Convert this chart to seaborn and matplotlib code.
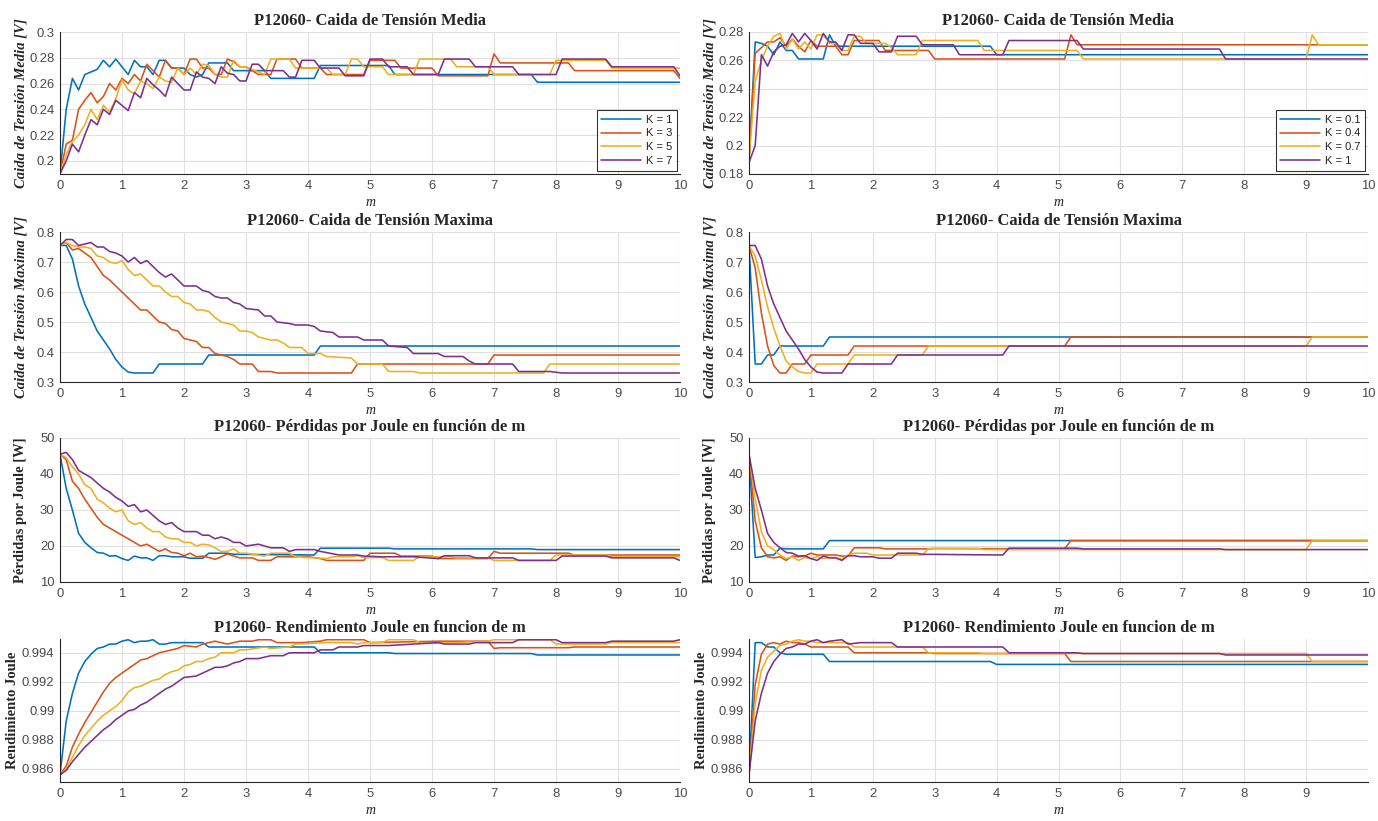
import matplotlib
matplotlib.use("Agg")
import matplotlib.pyplot as plt
import seaborn as sns
import pandas as pd

# ---------------- data ----------------
colores = ["#0072BD", "#D95319", "#EDB120", "#7E2F8E"]
k_izq = ["K = 1", "K = 3", "K = 5", "K = 7"]
k_der = ["K = 0.1", "K = 0.4", "K = 0.7", "K = 1"]
m_ticks = [0, 1, 2, 3, 4, 5, 6, 7, 8, 9, 10]

# Caida de Tension Media (left: K = 1, 3, 5, 7)
media_izq_k1 = [(0, 0.19), (0.1, 0.24), (0.2, 0.264), (0.3, 0.255), (0.4, 0.267), (0.5, 0.269), (0.6, 0.271),
                (0.7, 0.278), (0.8, 0.273), (0.9, 0.279), (1.0, 0.273), (1.1, 0.267), (1.2, 0.278), (1.3, 0.273),
                (1.4, 0.273), (1.5, 0.267), (1.6, 0.278), (1.7, 0.278), (1.8, 0.272), (2.0, 0.272), (2.1, 0.267),
                (2.2, 0.265), (2.3, 0.267), (2.4, 0.276), (2.7, 0.276), (2.8, 0.27), (3.3, 0.27), (3.4, 0.264),
                (4.1, 0.264), (4.2, 0.274), (5.3, 0.274), (5.4, 0.267), (7.6, 0.267), (7.7, 0.261), (10, 0.261)]
media_izq_k3 = [(0, 0.19), (0.1, 0.213), (0.2, 0.216), (0.3, 0.24), (0.4, 0.247), (0.5, 0.253), (0.6, 0.245),
                (0.7, 0.25), (0.8, 0.26), (0.9, 0.255), (1.0, 0.264), (1.1, 0.26), (1.2, 0.267), (1.3, 0.262),
                (1.4, 0.275), (1.5, 0.27), (1.6, 0.265), (1.7, 0.278), (1.8, 0.272), (1.9, 0.272), (2.0, 0.267),
                (2.1, 0.279), (2.2, 0.279), (2.3, 0.272), (2.4, 0.272), (2.5, 0.267), (2.6, 0.267), (2.7, 0.279),
                (2.8, 0.277), (2.9, 0.273), (3.0, 0.273), (3.2, 0.267), (3.4, 0.267), (3.5, 0.279), (3.8, 0.279),
                (3.9, 0.272), (4.2, 0.272), (4.3, 0.267), (4.9, 0.267), (5.0, 0.278), (5.4, 0.278), (5.5, 0.272),
                (6.0, 0.272), (6.1, 0.266), (6.9, 0.266), (7.0, 0.283), (7.1, 0.276), (8.2, 0.276), (8.3, 0.27),
                (9.9, 0.27), (10, 0.264)]
media_izq_k5 = [(0, 0.19), (0.1, 0.205), (0.2, 0.215), (0.3, 0.22), (0.4, 0.228), (0.5, 0.24), (0.6, 0.232),
                (0.7, 0.243), (0.8, 0.238), (0.9, 0.248), (1.0, 0.263), (1.1, 0.255), (1.2, 0.252), (1.3, 0.262),
                (1.4, 0.26), (1.5, 0.256), (1.6, 0.265), (1.7, 0.262), (1.8, 0.261), (1.9, 0.272), (2.0, 0.267),
                (2.1, 0.272), (2.2, 0.267), (2.3, 0.275), (2.4, 0.274), (2.5, 0.267), (2.6, 0.265), (2.7, 0.265),
                (2.8, 0.278), (2.9, 0.273), (3.0, 0.273), (3.3, 0.267), (3.4, 0.279), (3.7, 0.279), (3.8, 0.272),
                (4.3, 0.272), (4.4, 0.267), (4.6, 0.267), (4.7, 0.279), (4.8, 0.279), (4.9, 0.273), (5.2, 0.273),
                (5.3, 0.267), (5.7, 0.267), (5.8, 0.279), (6.3, 0.279), (6.4, 0.273), (6.9, 0.273), (7.0, 0.267),
                (7.9, 0.267), (8.0, 0.278), (8.8, 0.278), (8.9, 0.272), (10, 0.272)]
media_izq_k7 = [(0, 0.19), (0.1, 0.2), (0.2, 0.213), (0.3, 0.207), (0.4, 0.22), (0.5, 0.232), (0.6, 0.228),
                (0.7, 0.24), (0.8, 0.236), (0.9, 0.247), (1.0, 0.243), (1.1, 0.239), (1.2, 0.253), (1.3, 0.249),
                (1.4, 0.264), (1.5, 0.259), (1.6, 0.255), (1.7, 0.25), (1.8, 0.265), (1.9, 0.26), (2.0, 0.255),
                (2.1, 0.255), (2.2, 0.269), (2.3, 0.265), (2.4, 0.264), (2.5, 0.26), (2.6, 0.273), (2.7, 0.268),
                (2.8, 0.267), (2.9, 0.262), (3.0, 0.262), (3.1, 0.275), (3.2, 0.275), (3.3, 0.27), (3.6, 0.27),
                (3.7, 0.265), (3.8, 0.265), (3.9, 0.278), (4.1, 0.278), (4.2, 0.272), (4.5, 0.272), (4.6, 0.266),
                (4.9, 0.266), (5.0, 0.279), (5.2, 0.279), (5.3, 0.273), (5.6, 0.273), (5.7, 0.267), (6.1, 0.267),
                (6.2, 0.279), (6.6, 0.279), (6.7, 0.273), (7.3, 0.273), (7.4, 0.267), (8.0, 0.267), (8.1, 0.279),
                (8.8, 0.279), (8.9, 0.273), (9.9, 0.273), (10, 0.266)]

# Caida de Tension Media (right: K = 0.1, 0.4, 0.7, 1)
media_der_k01 = [(0, 0.19), (0.1, 0.273), (0.2, 0.272), (0.3, 0.27), (0.4, 0.264), (0.5, 0.273), (0.6, 0.267),
                 (0.7, 0.267), (0.8, 0.261), (1.2, 0.261), (1.3, 0.278), (1.4, 0.27), (3.9, 0.27), (4.0, 0.264),
                 (10, 0.264)]
media_der_k04 = [(0, 0.19), (0.1, 0.265), (0.2, 0.269), (0.3, 0.273), (0.4, 0.273), (0.5, 0.276), (0.6, 0.27),
                 (0.7, 0.275), (0.8, 0.27), (0.9, 0.266), (1.0, 0.274), (1.1, 0.27), (1.4, 0.27), (1.5, 0.264),
                 (1.6, 0.264), (1.7, 0.274), (2.1, 0.274), (2.2, 0.267), (2.9, 0.267), (3.0, 0.261), (5.1, 0.261),
                 (5.2, 0.278), (5.3, 0.271), (10, 0.271)]
media_der_k07 = [(0, 0.19), (0.1, 0.245), (0.2, 0.26), (0.3, 0.27), (0.4, 0.277), (0.5, 0.279), (0.6, 0.268),
                 (0.7, 0.275), (0.8, 0.268), (0.9, 0.273), (1.0, 0.268), (1.1, 0.278), (1.2, 0.278), (1.3, 0.272),
                 (1.4, 0.272), (1.5, 0.267), (1.6, 0.267), (1.7, 0.277), (1.8, 0.277), (1.9, 0.272), (2.2, 0.272),
                 (2.3, 0.269), (2.4, 0.264), (2.7, 0.264), (2.8, 0.274), (3.7, 0.274), (3.8, 0.267), (5.3, 0.267),
                 (5.4, 0.261), (9.0, 0.261), (9.1, 0.278), (9.2, 0.271), (10, 0.271)]
media_der_k1 = [(0, 0.188), (0.1, 0.2), (0.2, 0.264), (0.3, 0.256), (0.4, 0.266), (0.5, 0.27), (0.6, 0.271),
                (0.7, 0.279), (0.8, 0.273), (0.9, 0.279), (1.0, 0.274), (1.1, 0.268), (1.2, 0.279), (1.3, 0.273),
                (1.4, 0.273), (1.5, 0.267), (1.6, 0.278), (1.7, 0.278), (1.8, 0.272), (2.0, 0.272), (2.1, 0.266),
                (2.3, 0.266), (2.4, 0.277), (2.7, 0.277), (2.8, 0.271), (3.3, 0.271), (3.4, 0.264), (4.1, 0.264),
                (4.2, 0.274), (5.3, 0.274), (5.4, 0.268), (7.6, 0.268), (7.7, 0.261), (10, 0.261)]

# Caida de Tension Maxima
maxima_izq_k1 = [(0, 0.755), (0.1, 0.755), (0.2, 0.71), (0.3, 0.62), (0.4, 0.56), (0.5, 0.515), (0.6, 0.47),
                 (0.7, 0.44), (0.8, 0.41), (0.9, 0.375), (1.0, 0.35), (1.1, 0.333), (1.2, 0.33), (1.5, 0.33),
                 (1.6, 0.36), (2.3, 0.36), (2.4, 0.39), (4.1, 0.39), (4.2, 0.42), (10, 0.42)]
maxima_izq_k3 = [(0, 0.755), (0.1, 0.765), (0.2, 0.74), (0.3, 0.745), (0.4, 0.73), (0.5, 0.715), (0.6, 0.685),
                 (0.7, 0.655), (0.8, 0.64), (0.9, 0.62), (1.0, 0.6), (1.1, 0.58), (1.2, 0.56), (1.3, 0.54),
                 (1.4, 0.54), (1.5, 0.52), (1.6, 0.5), (1.7, 0.495), (1.8, 0.475), (1.9, 0.47), (2.0, 0.445),
                 (2.1, 0.44), (2.2, 0.435), (2.3, 0.415), (2.4, 0.415), (2.5, 0.395), (2.6, 0.39), (2.7, 0.385),
                 (2.8, 0.375), (2.9, 0.36), (3.1, 0.36), (3.2, 0.335), (3.4, 0.335), (3.5, 0.33), (4.7, 0.33),
                 (4.8, 0.36), (6.9, 0.36), (7.0, 0.39), (10, 0.39)]
maxima_izq_k5 = [(0, 0.755), (0.1, 0.765), (0.2, 0.755), (0.3, 0.75), (0.4, 0.75), (0.5, 0.745), (0.6, 0.72),
                 (0.7, 0.715), (0.8, 0.7), (0.9, 0.695), (1.0, 0.705), (1.1, 0.675), (1.2, 0.655), (1.3, 0.66),
                 (1.4, 0.64), (1.5, 0.62), (1.6, 0.62), (1.7, 0.6), (1.8, 0.585), (1.9, 0.585), (2.0, 0.565),
                 (2.1, 0.56), (2.2, 0.54), (2.3, 0.54), (2.4, 0.535), (2.5, 0.515), (2.6, 0.5), (2.7, 0.495),
                 (2.8, 0.49), (2.9, 0.47), (3.0, 0.47), (3.1, 0.465), (3.2, 0.45), (3.3, 0.445), (3.4, 0.44),
                 (3.5, 0.44), (3.6, 0.43), (3.7, 0.415), (3.9, 0.415), (4.0, 0.395), (4.2, 0.395), (4.3, 0.385),
                 (4.7, 0.38), (4.8, 0.36), (5.2, 0.36), (5.3, 0.335), (5.7, 0.335), (5.8, 0.33), (7.8, 0.33),
                 (7.9, 0.36), (10, 0.36)]
maxima_izq_k7 = [(0, 0.755), (0.1, 0.775), (0.2, 0.775), (0.3, 0.755), (0.4, 0.76), (0.5, 0.765), (0.6, 0.75),
                 (0.7, 0.75), (0.8, 0.735), (0.9, 0.73), (1.0, 0.72), (1.1, 0.7), (1.2, 0.715), (1.3, 0.695),
                 (1.4, 0.705), (1.5, 0.685), (1.6, 0.665), (1.7, 0.65), (1.8, 0.66), (1.9, 0.64), (2.0, 0.62),
                 (2.2, 0.62), (2.3, 0.605), (2.4, 0.6), (2.5, 0.585), (2.6, 0.58), (2.7, 0.58), (2.8, 0.565),
                 (2.9, 0.56), (3.0, 0.545), (3.2, 0.54), (3.3, 0.52), (3.4, 0.52), (3.5, 0.5), (3.7, 0.495),
                 (3.8, 0.49), (4.0, 0.49), (4.1, 0.485), (4.2, 0.47), (4.4, 0.465), (4.5, 0.45), (4.8, 0.45),
                 (4.9, 0.44), (5.2, 0.44), (5.3, 0.42), (5.6, 0.415), (5.7, 0.395), (6.1, 0.395), (6.2, 0.385),
                 (6.5, 0.385), (6.6, 0.37), (6.7, 0.36), (7.3, 0.36), (7.4, 0.335), (7.9, 0.335), (8.1, 0.33),
                 (10, 0.33)]
maxima_der_k01 = [(0, 0.755), (0.1, 0.36), (0.2, 0.36), (0.3, 0.39), (0.4, 0.39), (0.5, 0.42), (1.2, 0.42),
                  (1.3, 0.45), (10, 0.45)]
maxima_der_k04 = [(0, 0.755), (0.1, 0.68), (0.2, 0.53), (0.3, 0.42), (0.4, 0.355), (0.5, 0.33), (0.6, 0.33),
                  (0.7, 0.36), (0.9, 0.36), (1.0, 0.39), (1.6, 0.39), (1.7, 0.42), (5.1, 0.42), (5.2, 0.45),
                  (10, 0.45)]
maxima_der_k07 = [(0, 0.755), (0.1, 0.72), (0.2, 0.64), (0.3, 0.55), (0.4, 0.48), (0.5, 0.42), (0.6, 0.37),
                  (0.7, 0.35), (0.8, 0.335), (0.9, 0.33), (1.0, 0.33), (1.1, 0.36), (1.6, 0.36), (1.7, 0.39),
                  (2.8, 0.39), (2.9, 0.42), (9.0, 0.42), (9.1, 0.45), (10, 0.45)]
maxima_der_k1 = [(0, 0.755), (0.1, 0.755), (0.2, 0.71), (0.3, 0.62), (0.4, 0.56), (0.5, 0.515), (0.6, 0.47),
                 (0.7, 0.44), (0.8, 0.41), (0.9, 0.375), (1.0, 0.35), (1.1, 0.333), (1.2, 0.33), (1.5, 0.33),
                 (1.6, 0.36), (2.3, 0.36), (2.4, 0.39), (4.1, 0.39), (4.2, 0.42), (10, 0.42)]

# Perdidas por Joule
perdidas_izq_k1 = [(0, 45.5), (0.1, 36), (0.2, 30), (0.3, 23.5), (0.4, 21), (0.5, 19.5), (0.6, 18.2), (0.7, 18),
                   (0.8, 17.2), (0.9, 17.3), (1.0, 16.5), (1.1, 16), (1.2, 17.2), (1.3, 16.7), (1.4, 16.7),
                   (1.5, 16), (1.6, 17.3), (1.7, 17.3), (1.8, 17), (2.0, 17), (2.1, 16.6), (2.3, 16.6), (2.4, 18),
                   (2.7, 18), (2.8, 17.7), (4.1, 17.5), (4.2, 19.4), (5.3, 19.4), (5.4, 19.2), (7.6, 19.2),
                   (7.7, 19.0), (10, 19.0)]
perdidas_izq_k3 = [(0, 45.5), (0.1, 44), (0.2, 38), (0.3, 36), (0.4, 33), (0.5, 30.5), (0.6, 28), (0.7, 26),
                   (0.8, 25), (0.9, 24), (1.0, 23), (1.1, 22), (1.2, 21), (1.3, 20), (1.4, 20.5), (1.5, 19.5),
                   (1.6, 18.5), (1.7, 19.2), (1.8, 18.2), (1.9, 18), (2.0, 17.3), (2.1, 18), (2.2, 17),
                   (2.3, 17.2), (2.4, 16.8), (2.5, 16.3), (2.6, 17), (2.7, 17.8), (2.8, 17.2), (2.9, 16.7),
                   (3.1, 16.7), (3.2, 16), (3.4, 16), (3.5, 17), (3.8, 17), (3.9, 17.3), (4.2, 16.5), (4.3, 16),
                   (4.9, 16), (5.0, 18), (5.4, 18), (5.5, 17.2), (6.0, 17.2), (6.1, 16.5), (6.9, 16.5),
                   (7.0, 18.5), (7.1, 18), (8.2, 18), (8.3, 17.5), (10, 17.5)]
perdidas_izq_k5 = [(0, 45.5), (0.1, 44.5), (0.2, 42), (0.3, 40), (0.4, 37), (0.5, 36), (0.6, 33), (0.7, 32),
                   (0.8, 30.5), (0.9, 29.5), (1.0, 30), (1.1, 27), (1.2, 26), (1.3, 26.5), (1.4, 25), (1.5, 24),
                   (1.6, 24), (1.7, 22.5), (1.8, 22), (1.9, 22), (2.0, 21), (2.1, 21), (2.2, 20), (2.3, 20.5),
                   (2.4, 20.3), (2.5, 19.5), (2.6, 18.5), (2.7, 18.5), (2.8, 19.2), (2.9, 18), (3.0, 18),
                   (3.3, 17.2), (3.4, 18), (3.7, 18), (3.8, 17), (4.3, 16.5), (4.4, 17), (4.7, 17), (4.8, 17.3),
                   (4.9, 16.8), (5.2, 16.8), (5.3, 16), (5.7, 16), (5.8, 17), (6.3, 17), (6.4, 16.7), (6.9, 16.7),
                   (7.0, 16), (7.9, 16), (8.0, 17.5), (8.8, 17.5), (8.9, 17), (10, 17)]
perdidas_izq_k7 = [(0, 45.5), (0.1, 46), (0.2, 44), (0.3, 41), (0.4, 40), (0.5, 39), (0.6, 37.5), (0.7, 36),
                   (0.8, 35), (0.9, 33.5), (1.0, 32.5), (1.1, 31), (1.2, 31.5), (1.3, 29.5), (1.4, 30),
                   (1.5, 28.5), (1.6, 27), (1.7, 26), (1.8, 26.5), (1.9, 25), (2.0, 24), (2.2, 24), (2.3, 23),
                   (2.4, 23), (2.5, 22), (2.6, 22.5), (2.7, 22), (2.8, 21), (2.9, 21), (3.0, 20), (3.2, 20.5),
                   (3.3, 20), (3.4, 19.5), (3.6, 19.5), (3.7, 18.5), (3.8, 19), (4.1, 19), (4.2, 18.5),
                   (4.5, 17.5), (4.8, 17.5), (4.9, 17.2), (5.2, 17), (5.7, 17), (6.1, 16.5), (6.2, 17.3),
                   (6.6, 17.3), (6.7, 16.7), (7.3, 16.7), (7.4, 16), (8.0, 16), (8.1, 17.2), (8.8, 17.2),
                   (8.9, 16.7), (9.9, 16.7), (10, 16)]
perdidas_der_k01 = [(0, 45.5), (0.1, 16.8), (0.2, 17), (0.3, 17.5), (0.4, 17.5), (0.5, 19.4), (0.6, 19.2),
                    (1.2, 19.2), (1.3, 21.5), (10, 21.5)]
perdidas_der_k04 = [(0, 45.5), (0.1, 27), (0.2, 19.5), (0.3, 17), (0.4, 16.7), (0.5, 17), (0.6, 16), (0.7, 17.2),
                    (0.8, 17), (0.9, 17.2), (1.0, 18), (1.1, 17.5), (1.4, 17.5), (1.5, 17.2), (1.6, 17.2),
                    (1.7, 19.5), (2.1, 19.5), (2.2, 19.2), (2.9, 19.2), (3.0, 19.3), (5.1, 19.2), (5.2, 21.5),
                    (10, 21.5)]
perdidas_der_k07 = [(0, 45.5), (0.1, 33), (0.2, 24), (0.3, 20), (0.4, 19), (0.5, 17.5), (0.6, 16.5), (0.7, 17),
                    (0.8, 16), (0.9, 16.8), (1.0, 16.5), (1.1, 17), (1.2, 16.5), (1.3, 16.8), (1.4, 16.8),
                    (1.5, 16.3), (1.6, 17.5), (1.7, 18), (1.9, 18), (2.0, 17.5), (2.8, 17.5), (2.9, 19.3),
                    (3.7, 19.3), (3.8, 19), (9.0, 19), (9.1, 21.5), (10, 21.5)]
perdidas_der_k1 = [(0, 45.5), (0.1, 36), (0.2, 30), (0.3, 23.5), (0.4, 21), (0.5, 19.5), (0.6, 18.2), (0.7, 18),
                   (0.8, 17.2), (0.9, 17.3), (1.0, 16.5), (1.1, 16), (1.2, 17.2), (1.3, 16.7), (1.4, 16.7),
                   (1.5, 16), (1.6, 17.3), (1.7, 17.3), (1.8, 17), (2.0, 17), (2.1, 16.6), (2.3, 16.6), (2.4, 18),
                   (2.7, 18), (2.8, 17.7), (4.1, 17.5), (4.2, 19.4), (5.3, 19.4), (5.4, 19.2), (7.6, 19.2),
                   (7.7, 19.0), (10, 19.0)]

# Rendimiento Joule
rend_izq_k1 = [(0, 0.9856), (0.1, 0.9893), (0.2, 0.9912), (0.3, 0.9926), (0.4, 0.9934), (0.5, 0.9939),
               (0.6, 0.9943), (0.7, 0.9944), (0.8, 0.9946), (0.9, 0.9946), (1.0, 0.9948), (1.1, 0.9949),
               (1.2, 0.9947), (1.3, 0.9948), (1.4, 0.9948), (1.5, 0.9949), (1.6, 0.9946), (1.7, 0.9946),
               (1.8, 0.9947), (2.3, 0.9947), (2.4, 0.9944), (4.1, 0.9944), (4.2, 0.994), (5.3, 0.994),
               (5.4, 0.99395), (7.6, 0.99395), (7.7, 0.99385), (10, 0.99385)]
rend_izq_k3 = [(0, 0.9856), (0.1, 0.9862), (0.2, 0.9875), (0.3, 0.9884), (0.4, 0.9892), (0.5, 0.9899),
               (0.6, 0.9906), (0.7, 0.9913), (0.8, 0.9919), (0.9, 0.9923), (1.0, 0.9926), (1.1, 0.9929),
               (1.2, 0.9932), (1.3, 0.9935), (1.4, 0.9936), (1.5, 0.9938), (1.6, 0.994), (1.7, 0.9941),
               (1.8, 0.9942), (1.9, 0.9943), (2.0, 0.9945), (2.2, 0.9944), (2.3, 0.9946), (2.4, 0.9947),
               (2.5, 0.9948), (2.6, 0.9947), (2.7, 0.9946), (2.8, 0.9947), (2.9, 0.9948), (3.1, 0.9948),
               (3.2, 0.9949), (3.4, 0.9949), (3.5, 0.9947), (3.9, 0.9947), (4.2, 0.9948), (4.3, 0.9949),
               (4.9, 0.9949), (5.0, 0.9947), (6.1, 0.9948), (6.9, 0.9948), (7.0, 0.9943), (7.1, 0.99435),
               (8.2, 0.99435), (8.3, 0.9944), (10, 0.9944)]
rend_izq_k5 = [(0, 0.9856), (0.1, 0.986), (0.2, 0.9868), (0.3, 0.9876), (0.4, 0.9883), (0.5, 0.9888),
               (0.6, 0.9893), (0.7, 0.9897), (0.8, 0.99), (0.9, 0.9903), (1.0, 0.9907), (1.1, 0.9913),
               (1.2, 0.9916), (1.3, 0.9917), (1.4, 0.9919), (1.5, 0.9921), (1.6, 0.9922), (1.7, 0.9925),
               (1.8, 0.9927), (1.9, 0.9928), (2.0, 0.9931), (2.1, 0.9932), (2.2, 0.9934), (2.3, 0.9934),
               (2.4, 0.9936), (2.5, 0.9937), (2.6, 0.994), (2.8, 0.994), (2.9, 0.9942), (3.0, 0.9942),
               (3.3, 0.9944), (3.4, 0.9943), (3.7, 0.9944), (3.8, 0.9946), (4.3, 0.9947), (4.7, 0.9947),
               (4.8, 0.9946), (4.9, 0.9947), (5.2, 0.9947), (5.3, 0.9949), (5.7, 0.9949), (5.8, 0.9947),
               (6.4, 0.9947), (6.9, 0.9948), (7.0, 0.9949), (7.9, 0.9949), (8.0, 0.9946), (8.8, 0.9946),
               (8.9, 0.9947), (10, 0.9947)]
rend_izq_k7 = [(0, 0.9856), (0.1, 0.9859), (0.2, 0.9865), (0.3, 0.987), (0.4, 0.9875), (0.5, 0.9879),
               (0.6, 0.9883), (0.7, 0.9887), (0.8, 0.989), (0.9, 0.9894), (1.0, 0.9897), (1.1, 0.99),
               (1.2, 0.9901), (1.3, 0.9904), (1.4, 0.9906), (1.5, 0.9909), (1.6, 0.9912), (1.7, 0.9915),
               (1.8, 0.9917), (1.9, 0.992), (2.0, 0.9923), (2.2, 0.9924), (2.3, 0.9926), (2.4, 0.9928),
               (2.5, 0.993), (2.6, 0.993), (2.7, 0.9931), (2.8, 0.9933), (2.9, 0.9934), (3.0, 0.9936),
               (3.2, 0.9936), (3.3, 0.9937), (3.4, 0.9938), (3.6, 0.9938), (3.7, 0.994), (4.1, 0.994),
               (4.2, 0.9942), (4.4, 0.9942), (4.5, 0.9944), (4.8, 0.9944), (4.9, 0.9945), (5.3, 0.9945),
               (5.7, 0.9946), (6.1, 0.9947), (6.2, 0.9946), (6.6, 0.9946), (6.7, 0.9947), (7.3, 0.9947),
               (7.4, 0.9949), (8.0, 0.9949), (8.1, 0.9947), (8.8, 0.9947), (8.9, 0.9948), (9.9, 0.9948),
               (10, 0.9949)]
rend_der_k01 = [(0, 0.9856), (0.1, 0.9947), (0.2, 0.9947), (0.3, 0.9944), (0.4, 0.9944), (0.5, 0.994),
                (0.6, 0.9939), (1.2, 0.9939), (1.3, 0.9934), (3.9, 0.9934), (4.0, 0.9932), (10, 0.9932)]
rend_der_k04 = [(0, 0.9856), (0.1, 0.9918), (0.2, 0.9939), (0.3, 0.9946), (0.4, 0.9947), (0.5, 0.9946),
                (0.6, 0.9948), (0.7, 0.9947), (0.8, 0.9947), (0.9, 0.9946), (1.0, 0.9944), (1.6, 0.9944),
                (1.7, 0.994), (2.9, 0.994), (3.0, 0.99395), (5.1, 0.99395), (5.2, 0.9934), (10, 0.9934)]
rend_der_k07 = [(0, 0.9856), (0.1, 0.9905), (0.2, 0.9928), (0.3, 0.9937), (0.4, 0.9941), (0.5, 0.9945),
                (0.6, 0.9946), (0.7, 0.9948), (0.8, 0.9949), (0.9, 0.9948), (1.0, 0.9948), (1.1, 0.9947),
                (1.6, 0.9947), (1.7, 0.9944), (2.8, 0.9944), (2.9, 0.994), (3.7, 0.994), (3.8, 0.99395),
                (9.0, 0.99395), (9.1, 0.9934), (10, 0.9934)]
rend_der_k1 = [(0, 0.9856), (0.1, 0.9893), (0.2, 0.9912), (0.3, 0.9926), (0.4, 0.9934), (0.5, 0.9939),
               (0.6, 0.9943), (0.7, 0.9944), (0.8, 0.9946), (0.9, 0.9946), (1.0, 0.9948), (1.1, 0.9949),
               (1.2, 0.9947), (1.3, 0.9948), (1.5, 0.9949), (1.6, 0.9946), (1.8, 0.9947), (2.3, 0.9947),
               (2.4, 0.9944), (4.1, 0.9944), (4.2, 0.994), (5.3, 0.994), (5.4, 0.99395), (7.6, 0.99395),
               (7.7, 0.99385), (10, 0.99385)]

titulos = ["P12060- Caida de Tensión Media", "P12060- Caida de Tensión Maxima",
           "P12060- Pérdidas por Joule en función de m", "P12060- Rendimiento Joule en funcion de m"]
ylabels = ["Caida de Tensión Media [V]", "Caida de Tensión Maxima [V]",
           "Pérdidas por Joule [W]", "Rendimiento Joule"]
ylabel_italic = [True, True, False, False]

yticks_media_izq = [0.2, 0.22, 0.24, 0.26, 0.28, 0.3]
yticks_media_der = [0.18, 0.2, 0.22, 0.24, 0.26, 0.28]
yticks_maxima = [0.3, 0.4, 0.5, 0.6, 0.7, 0.8]
yticks_perdidas = [10, 20, 30, 40, 50]
yticks_rend = [0.986, 0.988, 0.99, 0.992, 0.994]

# ---------------- figure ----------------
sns.set_style("white")
plt.rcParams['font.family'] = ['Liberation Sans', 'DejaVu Sans']

W, H = 1378, 821
fig = plt.figure(figsize=(W / 100, H / 100), dpi=100)

col_x = [(60, 680), (749, 1368)]
row_y = [(32, 174), (232, 382), (438, 582), (639, 782)]
ylabel_x = [-0.053, -0.053, -0.053, -0.066]

paneles = [
    [(media_izq_k1, media_izq_k3, media_izq_k5, media_izq_k7), yticks_media_izq, (0.1898, 0.3)],
    [(media_der_k01, media_der_k04, media_der_k07, media_der_k1), yticks_media_der, (0.18, 0.28)],
    [(maxima_izq_k1, maxima_izq_k3, maxima_izq_k5, maxima_izq_k7), yticks_maxima, (0.3, 0.8)],
    [(maxima_der_k01, maxima_der_k04, maxima_der_k07, maxima_der_k1), yticks_maxima, (0.3, 0.8)],
    [(perdidas_izq_k1, perdidas_izq_k3, perdidas_izq_k5, perdidas_izq_k7), yticks_perdidas, (10, 50)],
    [(perdidas_der_k01, perdidas_der_k04, perdidas_der_k07, perdidas_der_k1), yticks_perdidas, (10, 50)],
    [(rend_izq_k1, rend_izq_k3, rend_izq_k5, rend_izq_k7), yticks_rend, (0.9851, 0.99495)],
    [(rend_der_k01, rend_der_k04, rend_der_k07, rend_der_k1), yticks_rend, (0.9851, 0.99495)],
]

serif = ['Liberation Serif', 'DejaVu Serif']
tick_color = '#4a4a4a'

for i, (series, yt, ylim) in enumerate(paneles):
    r, c = divmod(i, 2)
    x0, x1 = col_x[c]
    y0, y1 = row_y[r]
    ax = fig.add_axes([x0 / W, 1 - y1 / H, (x1 - x0) / W, (y1 - y0) / H])
    etiquetas = k_izq if c == 0 else k_der
    rows = []
    for lab, s in zip(etiquetas, series):
        for m, v in s:
            rows.append({"m": m, "v": v, "K": lab})
    df = pd.DataFrame(rows)
    sns.lineplot(data=df, x="m", y="v", hue="K", hue_order=etiquetas, palette=colores,
                 estimator=None, sort=False, linewidth=1.15, ax=ax, legend=(r == 0))
    ax.set_xlim(0, 10)
    ax.set_ylim(*ylim)
    if r == 3 and c == 1:
        ax.set_xticks(m_ticks[:-1])
    else:
        ax.set_xticks(m_ticks)
    ax.set_yticks(yt)
    ax.set_yticklabels([f"{t:g}" for t in yt])
    ax.grid(True, color='#e0e0e0', linewidth=0.8)
    ax.set_axisbelow(True)
    for sp in ['top', 'right']:
        ax.spines[sp].set_visible(False)
    for sp in ['left', 'bottom']:
        ax.spines[sp].set_color('#262626')
        ax.spines[sp].set_linewidth(0.8)
    ax.tick_params(direction='in', length=3, width=0.6, colors=tick_color, labelsize=9.4, pad=4)
    ax.set_title(titulos[r], fontsize=12, fontweight='bold', family=serif, pad=5)
    ax.set_xlabel("m", fontsize=10, fontstyle='italic', family=serif, labelpad=3)
    ax.set_ylabel(ylabels[r], fontsize=10.5, fontweight='bold',
                  fontstyle='italic' if ylabel_italic[r] else 'normal', family=serif)
    ax.yaxis.set_label_coords(ylabel_x[r], 0.5)
    if r == 0:
        leg = ax.legend(loc='lower right', fontsize=8, frameon=True, fancybox=False,
                        handlelength=3.6, borderpad=0.4, labelspacing=0.35, borderaxespad=0.3,
                        handletextpad=0.4)
        leg.get_frame().set_edgecolor('black')
        leg.get_frame().set_linewidth(0.8)
        for t in leg.get_texts():
            t.set_color('#222222')

fig.savefig("out.png", dpi=100, facecolor='white')
